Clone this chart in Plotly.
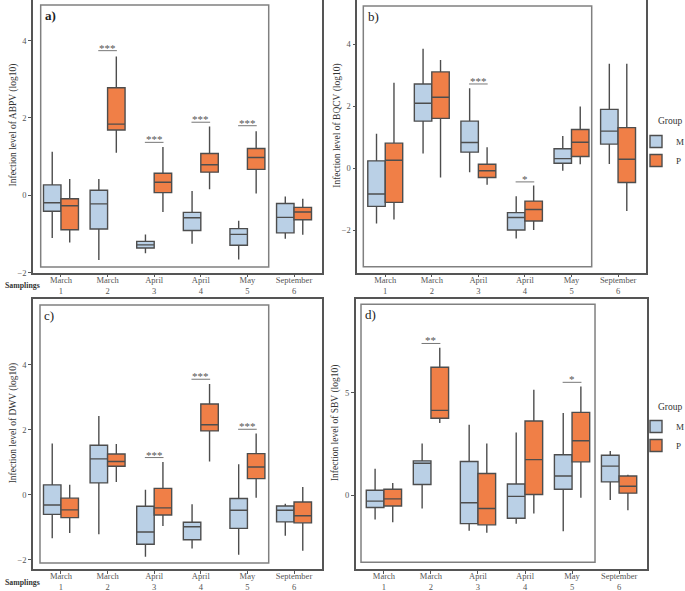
import plotly.graph_objects as go

# ---------------- data ----------------
samplings = ["March<br>1", "March<br>2", "April<br>3", "April<br>4", "May<br>5", "September<br>6"]
groups = ["M", "P"]

# each row: [lower whisker, q1, median, q3, upper whisker] per sampling
abpv_M = [[-1.10, -0.41, -0.19, 0.27, 1.13], [-1.67, -0.87, -0.22, 0.13, 0.42], [-1.50, -1.36, -1.28, -1.19, -1.01],
          [-1.25, -0.91, -0.58, -0.44, 0.11], [-1.66, -1.29, -1.01, -0.86, -0.66], [-1.12, -0.97, -0.57, -0.21, -0.03]]
abpv_P = [[-1.22, -0.89, -0.27, -0.09, 0.42], [1.10, 1.69, 1.84, 2.78, 3.59], [-0.43, 0.07, 0.34, 0.57, 1.25],
          [0.16, 0.60, 0.79, 1.08, 1.78], [0.05, 0.67, 0.98, 1.21, 1.66], [-1.02, -0.63, -0.43, -0.31, -0.09]]
bqcv_M = [[-1.78, -1.23, -0.83, 0.24, 1.11], [0.48, 1.52, 2.10, 2.72, 3.86], [-0.13, 0.52, 0.83, 1.52, 2.58],
          [-2.27, -1.99, -1.59, -1.43, -0.90], [-0.08, 0.16, 0.31, 0.63, 1.04], [0.14, 0.78, 1.20, 1.90, 3.37]]
bqcv_P = [[-1.65, -1.10, 0.26, 0.81, 2.76], [-0.30, 1.61, 2.29, 3.11, 3.49], [-0.53, -0.30, -0.08, 0.13, 0.68],
          [-1.99, -1.70, -1.33, -1.06, -0.56], [0.13, 0.38, 0.84, 1.25, 1.99], [-1.38, -0.46, 0.29, 1.31, 3.37]]
dwv_M = [[-1.33, -0.60, -0.31, 0.31, 1.58], [-1.21, 0.37, 1.11, 1.53, 2.43], [-1.90, -1.52, -1.14, -0.35, 0.16],
         [-1.65, -1.38, -0.98, -0.84, -0.29], [-1.84, -1.03, -0.47, -0.11, 0.94], [-1.26, -0.83, -0.47, -0.34, -0.27]]
dwv_P = [[-1.17, -0.70, -0.46, -0.10, 0.31], [0.40, 0.88, 1.03, 1.26, 1.57], [-0.96, -0.62, -0.40, 0.20, 1.01],
         [1.03, 1.97, 2.16, 2.80, 3.41], [-0.09, 0.50, 0.86, 1.27, 1.89], [-1.72, -0.86, -0.64, -0.22, 0.24]]
sbv_M = [[-1.19, -0.60, -0.29, 0.24, 1.29], [-0.65, 0.52, 1.56, 1.68, 2.53], [-1.74, -1.39, -0.37, 1.65, 3.45],
         [-1.40, -1.13, -0.06, 0.55, 3.06], [-1.76, 0.29, 0.94, 1.98, 4.02], [-0.24, 0.65, 1.42, 1.95, 2.16]]
sbv_P = [[-1.32, -0.53, -0.18, 0.29, 0.60], [3.53, 3.76, 4.15, 6.26, 7.21], [-1.84, -1.45, -0.65, 1.06, 2.53],
         [-0.89, 0.03, 1.74, 3.63, 5.16], [-0.13, 1.63, 2.66, 4.05, 5.31], [-0.74, 0.10, 0.44, 0.94, 1.00]]

# significance: (sampling index, bar height, label)
abpv_sig = [(1, 3.74, "***"), (2, 1.37, "***"), (3, 1.89, "***"), (4, 1.80, "***")]
bqcv_sig = [(2, 2.72, "***"), (3, -0.44, "*")]
dwv_sig = [(2, 1.15, "***"), (3, 3.56, "***"), (4, 2.02, "***")]
sbv_sig = [(1, 7.42, "**"), (4, 5.52, "*")]

y_titles = ["Infection level of ABPV (log10)", "Infection level of BQCV (log10)",
            "Infection level of DWV (log10)", "Infection level of SBV (log10)"]
panel_labels = ["<b>a)</b>", "b)", "c)", "d)"]

# ---------------- style ----------------
FONT = "Liberation Serif"
fill = {"M": "#BAD0E6", "P": "#F07F47"}
dodge = {"M": -0.1875, "P": 0.1875}
edge = "#4d4d4d"
W, H = 685, 591
BOT = 569  # bottom frame of lower panels (px from top)

panels = [
    dict(data={"M": abpv_M, "P": abpv_P}, sig=abpv_sig, xd=[33 / W, 322 / W], yd=[1 - 272.7 / H, 1.0],
         yr=[-2, 5.05], tv=[-2, 0, 2, 4], inner=[0.0266, 0.8156, 0.021, 0.982]),
    dict(data={"M": bqcv_M, "P": bqcv_P}, sig=bqcv_sig, xd=[357.3 / W, 646 / W], yd=[1 - 272.7 / H, 1.0],
         yr=[-3.37, 5.43], tv=[-2, 0, 2, 4], inner=[0.0208, 0.8119, 0.022, 0.978]),
    dict(data={"M": dwv_M, "P": dwv_P}, sig=dwv_sig, xd=[33 / W, 322 / W], yd=[1 - BOT / H, 1 - 299.3 / H],
         yr=[-2.28, 6.02], tv=[-2, 0, 2, 4], inner=[0.0242, 0.8156, 0.022, 0.979]),
    dict(data={"M": sbv_M, "P": sbv_P}, sig=sbv_sig, xd=[355.7 / W, 647.3 / W], yd=[1 - BOT / H, 1 - 299.3 / H],
         yr=[-3.61, 9.58], tv=[0, 5], inner=[0.0182, 0.8207, 0.0246, 0.9817]),
]

fig = go.Figure()
shapes, annotations = [], []
positions = list(range(len(samplings)))

for i, p in enumerate(panels):
    n = "" if i == 0 else str(i + 1)
    xa, ya = "x" + n, "y" + n
    for g in groups:
        rows = p["data"][g]
        fig.add_trace(go.Box(
            x=[k + dodge[g] for k in positions], width=0.375,
            lowerfence=[r[0] for r in rows], q1=[r[1] for r in rows], median=[r[2] for r in rows],
            q3=[r[3] for r in rows], upperfence=[r[4] for r in rows],
            name=g,
            fillcolor=fill[g], line=dict(color=edge, width=1.4),
            whiskerwidth=0, boxpoints=False, hoverinfo="y",
            xaxis=xa, yaxis=ya,
            showlegend=(i in (1, 3)),
            legend="legend2" if i == 3 else "legend",
        ))
    fig.layout["xaxis" + n] = dict(
        domain=p["xd"], anchor=ya, range=[-0.6, 5.6], tickvals=positions, ticktext=samplings,
        showline=True, mirror=True, linecolor="#555555", linewidth=1.5,
        ticks="outside", ticklen=3, tickcolor="#555555", showgrid=False, zeroline=False,
        tickfont=dict(family=FONT, size=8.5, color="#555555"), ticklabelstandoff=-5,
    )
    fig.layout["yaxis" + n] = dict(
        domain=p["yd"], anchor=xa, range=p["yr"], tickvals=p["tv"],
        showline=True, mirror=True, linecolor="#555555", linewidth=1.5,
        ticks="outside", ticklen=3, tickcolor="#555555", showgrid=False, zeroline=False,
        tickfont=dict(family=FONT, size=8.5, color="#555555"),
    )
    # inner grey rectangle
    ix0, ix1, iy0, iy1 = p["inner"]
    shapes.append(dict(type="rect", xref=xa + " domain", yref=ya + " domain", x0=ix0, x1=ix1, y0=iy0, y1=iy1,
                       line=dict(color="#808080", width=1.5), fillcolor="rgba(0,0,0,0)", layer="above"))
    # panel label
    annotations.append(dict(text=panel_labels[i], xref=xa + " domain", yref=ya + " domain",
                            x=ix0 + 0.008, y=iy1 - 0.004, xanchor="left", yanchor="top", showarrow=False,
                            font=dict(family=FONT, size=13, color="#222222")))
    # y title
    annotations.append(dict(text=y_titles[i], textangle=-90, xref="paper", yref=ya + " domain",
                            x=(p["xd"][0] * W - 20) / W, y=0.54, xanchor="center", yanchor="middle",
                            showarrow=False, font=dict(family=FONT, size=9.5, color="#333333")))
    # significance
    for (k, yv, lab) in p["sig"]:
        shapes.append(dict(type="line", xref=xa, yref=ya, x0=k - 0.2, x1=k + 0.2, y0=yv, y1=yv,
                           line=dict(color="#777777", width=1)))
        annotations.append(dict(text=lab, xref=xa, yref=ya, x=k, y=yv, xanchor="center", yanchor="middle",
                                yshift=3, showarrow=False, font=dict(family=FONT, size=11, color="#555555")))

# "Samplings" labels
for yy in (285, BOT + 13):
    annotations.append(dict(text="<b>Samplings</b>", xref="paper", yref="paper", x=3 / W, y=1 - yy / H,
                            xanchor="left", yanchor="middle", showarrow=False,
                            font=dict(family=FONT, size=7.8, color="#333333")))
# legend titles
for yy in (121, 407):
    annotations.append(dict(text="Group", xref="paper", yref="paper", x=656 / W, y=1 - yy / H,
                            xanchor="left", yanchor="middle", showarrow=False,
                            font=dict(family=FONT, size=9.5, color="#333333")))

legend_style = dict(
    font=dict(family=FONT, size=9, color="#333333"),
    bgcolor="rgba(0,0,0,0)", xanchor="left", yanchor="top", itemwidth=30, tracegroupgap=0,
)
fig.update_layout(
    width=W, height=H, margin=dict(l=0, r=0, t=0, b=0, autoexpand=False),
    paper_bgcolor="white", plot_bgcolor="white",
    boxmode="overlay",
    shapes=shapes, annotations=annotations,
    legend=dict(x=636 / W, y=1 - 127 / H, **legend_style),
    legend2=dict(x=636 / W, y=1 - 412 / H, **legend_style),
    font=dict(family=FONT),
)

fig.write_html("out.html", config={"displayModeBar": False},
               post_script="document.body.style.margin='0px';")
